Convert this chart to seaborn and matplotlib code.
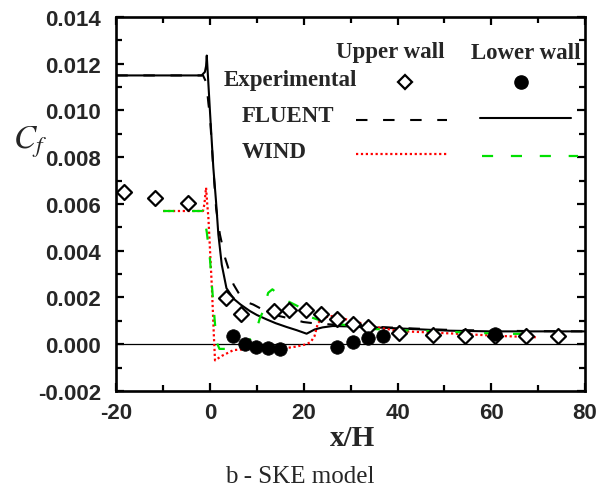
import numpy as np
import pandas as pd
import matplotlib
matplotlib.use("Agg")
import matplotlib.pyplot as plt
from matplotlib.ticker import MultipleLocator, FormatStrFormatter
import seaborn as sns

# Experimental skin friction, upper wall (open diamonds)
exp_upper_x = [-18.4, -11.7, -4.8, 3.4, 6.7, 13.6, 16.9, 20.4, 23.6, 27.1, 30.5,
               33.8, 40.4, 47.5, 54.3, 60.9, 67.5, 74.3]
exp_upper_y = [0.00653, 0.00627, 0.00605, 0.00196, 0.00128, 0.00142, 0.00145,
               0.00145, 0.00128, 0.00106, 0.00085, 0.00074, 0.00049, 0.00039,
               0.00037, 0.00037, 0.00037, 0.00037]

# Experimental skin friction, lower wall (filled circles)
exp_lower_x = [5.0, 7.4, 9.9, 12.4, 14.9, 27.0, 30.4, 33.7, 37.0, 60.9]
exp_lower_y = [0.00035, 0.0, -0.00012, -0.00015, -0.00022, -0.0001, 0.0001,
               0.00028, 0.00035, 0.00045]

# FLUENT, upper wall (black dashed)
fluent_upper_x = [-20, -1.5, -0.8, -0.35, 0.0, 0.6, 1.3, 2.1, 3.2, 5.0, 7.1, 9.2,
                  12.0, 14.9, 17.0, 19.9, 22.0, 25.5, 30.0, 40.0, 50.0, 60.0, 70.0, 80.0]
fluent_upper_y = [0.0115, 0.0115, 0.0112, 0.0103, 0.0097, 0.0078, 0.0058, 0.0047,
                  0.0037, 0.00256, 0.00185, 0.0017, 0.0014, 0.0012, 0.0011, 0.00095,
                  0.0009, 0.00085, 0.0008, 0.0007, 0.00062, 0.00058, 0.00056, 0.00055]

# FLUENT, lower wall (black solid)
fluent_lower_x = [-20, -1.8, -1.1, -0.85, -0.7, 0.0, 0.7, 1.28, 1.77, 2.5, 3.5, 5.0,
                  6.5, 8.5, 10.0, 12.1, 14.0, 16.3, 18.5, 20.6, 22.3, 24.0, 26.2,
                  30.0, 40.0, 51.0, 60.0, 70.0, 80.0]
fluent_lower_y = [0.0115, 0.0115, 0.01165, 0.0119, 0.01235, 0.0099, 0.00755, 0.0061,
                  0.0047, 0.0034, 0.0024, 0.00195, 0.0017, 0.00142, 0.00125, 0.00106,
                  0.0009, 0.00074, 0.0006, 0.00045, 0.00063, 0.00072, 0.00078,
                  0.00076, 0.00068, 0.00058, 0.00055, 0.00055, 0.00055]

# WIND, upper wall (red dotted)
wind_upper_x = [-10, -1.5, -1.2, -0.85, -0.6, -0.35, 0.0, 0.36, 0.57, 0.85, 1.06,
                2.5, 5.0, 8.5, 15.0, 18.4, 20.6, 21.5, 22.3, 23.0, 24.1, 26.2,
                28.4, 30.5, 33.3, 36.2, 40.4, 47.5, 52.5, 62.4, 69.5]
wind_upper_y = [0.0057, 0.0057, 0.0060, 0.0067, 0.0060, 0.0054, 0.0040, 0.00256,
                0.00156, 0.0002, -0.00069, -0.0005, -0.00025, -0.0002, -0.0002,
                -0.0001, 0.0, 0.0001, 0.00035, 0.0009, 0.00114, 0.00121, 0.0011,
                0.00099, 0.00085, 0.0007, 0.00056, 0.0005, 0.00045, 0.00035, 0.0003]

# WIND, lower wall (green dashed)
wind_lower_x = [-10, -1.5, -0.7, 0.0, 0.4, 1.0, 1.4, 2.0, 3.5, 5.5, 7.5, 8.5, 9.6,
                10.6, 11.3, 12.4, 13.3, 14.2, 16.0, 18.0, 19.0, 21.6, 23.8, 28.0,
                34.0, 40.0, 47.0, 51.0, 62.0, 69.0]
wind_lower_y = [0.0057, 0.0057, 0.0048, 0.0036, 0.0025, 0.0010, 0.0001, -0.0002,
                -0.0002, -0.0001, 0.0, 0.0002, 0.0004, 0.0011, 0.0014, 0.0022,
                0.00235, 0.0022, 0.0019, 0.0017, 0.0016, 0.00115, 0.0010, 0.00085,
                0.00066, 0.0006, 0.00056, 0.00053, 0.00045, 0.00044]

x_ticks = [-20, 0, 20, 40, 60, 80]
y_ticks = [-0.002, 0.0, 0.002, 0.004, 0.006, 0.008, 0.010, 0.012, 0.014]

sns.set_style("ticks")
plt.rcParams["font.family"] = ["Liberation Sans", "DejaVu Sans"]
plt.rcParams["mathtext.fontset"] = "stix"
plt.rcParams["axes.unicode_minus"] = False

fig = plt.figure(figsize=(6.02, 4.89), dpi=100)
ax = fig.add_axes([0.1932, 0.1984, 0.7786, 0.7648])

# Reference line at zero friction
ax.axhline(0.0, color="black", lw=0.9, zorder=1)

lines = {
    "fl_up": (fluent_upper_x, fluent_upper_y, dict(color="black", lw=1.5, linestyle=(0, (5.5, 7.5)))),
    "fl_lo": (fluent_lower_x, fluent_lower_y, dict(color="black", lw=1.5, linestyle="-")),
    "wd_up": (wind_upper_x, wind_upper_y, dict(color="#ff0000", lw=1.6, linestyle=(0, (1, 1.2)))),
    "wd_lo": (wind_lower_x, wind_lower_y, dict(color="#00e000", lw=1.6, linestyle=(0, (5, 8)))),
}
for key, (xs, ys, style) in lines.items():
    df = pd.DataFrame({"x": xs, "y": ys})
    sns.lineplot(data=df, x="x", y="y", ax=ax, sort=False, estimator=None,
                 zorder=3, **style)

up = pd.DataFrame({"x": exp_upper_x, "y": exp_upper_y})
lo = pd.DataFrame({"x": exp_lower_x, "y": exp_lower_y})
sns.scatterplot(data=up, x="x", y="y", ax=ax, marker="D", s=58, facecolor="white",
                edgecolor="black", linewidth=1.6, zorder=4)
sns.scatterplot(data=lo, x="x", y="y", ax=ax, marker="o", s=95, color="black",
                edgecolor="black", linewidth=0.5, zorder=5)

ax.set_xlim(-20, 80)
ax.set_ylim(-0.002, 0.014)
ax.set_xticks(x_ticks)
ax.set_yticks(y_ticks)
ax.xaxis.set_minor_locator(MultipleLocator(10))
ax.yaxis.set_minor_locator(MultipleLocator(0.001))
ax.yaxis.set_major_formatter(FormatStrFormatter("%.3f"))
ax.tick_params(which="both", direction="in", top=True, right=True, width=1.6,
               color="black")
ax.tick_params(which="major", length=6)
ax.tick_params(which="minor", length=4.5)
ax.tick_params(axis="y", which="major", pad=11)
ax.tick_params(axis="x", which="major", pad=8)
for lab in ax.get_xticklabels() + ax.get_yticklabels():
    lab.set_fontsize(16)
    lab.set_fontweight("bold")
for sp in ax.spines.values():
    sp.set_linewidth(1.9)
    sp.set_color("black")

ax.set_xlabel("")
ax.set_ylabel("")
serif = ["Liberation Serif", "DejaVu Serif"]
fig.text(352 / 602, 1 - 438 / 489, "x/H", ha="center", va="center",
         fontsize=21, fontweight="bold", family=serif)
fig.text(30 / 602, 1 - 142 / 489, "$C_f$", ha="center", va="center", fontsize=24)
fig.text(300 / 602, 1 - 477 / 489, "b - SKE model", ha="center", va="center",
         fontsize=18, family=serif)

# Key drawn inside the axes
tA = ax.transAxes
kw = dict(transform=tA, fontsize=16.5, fontweight="bold", family=serif, va="center")
ax.text(0.584, 0.909, "Upper wall", ha="center", **kw)
ax.text(0.873, 0.906, "Lower wall", ha="center", **kw)
ax.text(0.230, 0.834, "Experimental", ha="left", **kw)
ax.text(0.268, 0.736, "FLUENT", ha="left", **kw)
ax.text(0.268, 0.640, "WIND", ha="left", **kw)
ax.plot([0.616], [0.826], transform=tA, marker="D", ms=7.5, mfc="white",
        mec="black", mew=1.6, clip_on=False)
ax.plot([0.864], [0.826], transform=tA, marker="o", ms=9.5, color="black",
        clip_on=False)
ax.plot([0.511, 0.705], [0.725, 0.725], transform=tA, **lines["fl_up"][2])
ax.plot([0.776, 0.971], [0.730, 0.730], transform=tA, **lines["fl_lo"][2])
ax.plot([0.511, 0.705], [0.634, 0.634], transform=tA, **lines["wd_up"][2])
ax.plot([0.780, 0.985], [0.628, 0.628], transform=tA, clip_on=False,
        **lines["wd_lo"][2])

fig.savefig("out.png", dpi=100, facecolor="white")
